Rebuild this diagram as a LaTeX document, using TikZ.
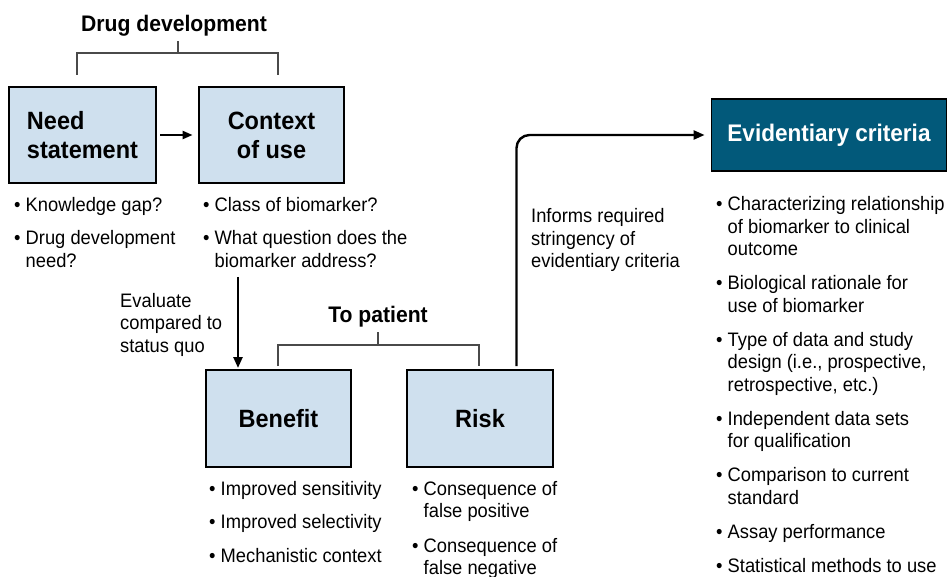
\documentclass[tikz,border=0pt]{standalone}
\usepackage{fontspec}
\setmainfont{Liberation Sans}[FakeStretch=0.94]
\usetikzlibrary{arrows.meta}
\definecolor{boxblue}{HTML}{CFE0EE}
\definecolor{teal}{HTML}{02597A}
\definecolor{bracketgray}{HTML}{4A4A4A}
\tikzset{
  body/.style={inner sep=0pt, anchor=base west,
    font=\fontsize{19.5}{22.5}\selectfont},
  heading/.style={inner sep=0pt, anchor=base,
    font=\fontsize{22.5}{26}\selectfont\bfseries},
  box/.style={draw=black, line width=2.8pt, fill=boxblue, inner sep=0pt,
    font=\fontsize{25}{29}\selectfont\bfseries},
  evbox/.style={draw=black, line width=1.8pt, fill=teal, text=white, inner sep=0pt,
    font=\fontsize{24}{28}\selectfont\bfseries},
  bracket/.style={draw=bracketgray, line width=1.1pt},
  flow/.style={line width=2.4pt, -{Triangle[length=11pt,width=9pt]}},
}
\newcommand{\bl}{\textbullet\ }
\newcommand{\ind}{\phantom{\textbullet\ }}
% a block of left-aligned lines whose baseline is that of its first line
\newcommand{\txtlines}[1]{\begin{tabular}[t]{@{}l@{}}#1\end{tabular}}
\begin{document}
\begin{tikzpicture}[x=1pt,y=-1pt]
\useasboundingbox (0,0) rectangle (950,577);

% Drug development group
\node[heading] (drugdev) at (174,32) {Drug development};
\draw[bracket] (77,75) -- (77,53) -- (278,53) -- (278,75) (178,53) -- (178,41);

\node[box, minimum width=147, minimum height=96, text width=111, align=left]
  (need) at (82.5,135) {Need\\statement};
\node[box, minimum width=145, minimum height=96, align=center]
  (context) at (271.5,135) {Context\\of use};
\draw[flow, line width=2.2pt, -{Triangle[length=10pt,width=8pt]}]
  ([xshift=3pt]need.east) -- ([xshift=-5pt]context.west);

\node[body] (needlist) at (14,212)
  {\txtlines{\bl Knowledge gap?\\[10.5pt]\bl Drug development\\\ind need?}};
\node[body] (contextlist) at (203,212)
  {\txtlines{\bl Class of biomarker?\\[10.5pt]\bl What question does the\\\ind biomarker address?}};

% Benefit and risk
\node[body] (evaluate) at (120,307) {\txtlines{Evaluate\\compared to\\status quo}};
\node[heading] (topatient) at (378,323) {To patient};
\draw[bracket] (278,366) -- (278,345) -- (479,345) -- (479,366) (378,345) -- (378,332);

\node[box, minimum width=145, minimum height=97] (benefit) at (278.5,418.5) {Benefit};
\node[box, minimum width=146, minimum height=97] (risk) at (480,418.5) {Risk};

\coordinate (evalstart) at (238,277);
\coordinate (evalend) at (238,368);
\draw[flow] (evalstart) -- (evalend);

\node[body] (benefitlist) at (209,495)
  {\txtlines{\bl Improved sensitivity\\[11pt]\bl Improved selectivity\\[11pt]\bl Mechanistic context}};
\node[body] (risklist) at (412,495)
  {\txtlines{\bl Consequence of\\\ind false positive\\[12pt]\bl Consequence of\\\ind false negative}};

% Evidentiary criteria
\node[evbox, minimum width=235, minimum height=72] (evid) at (829,135) {Evidentiary criteria};
\coordinate (riskout) at (516.5,366);
\draw[flow, rounded corners=13pt, shorten >=6pt] (riskout) |- (evid.west);
\node[body] (informs) at (531,223) {\txtlines{Informs required\\stringency of\\evidentiary criteria}};

\node[body] (evidlist) at (716,211)
  {\txtlines{\bl Characterizing relationship\\\ind of biomarker to clinical\\\ind outcome\\[11.5pt]
   \bl Biological rationale for\\\ind use of biomarker\\[11.5pt]
   \bl Type of data and study\\\ind design (i.e., prospective,\\\ind retrospective, etc.)\\[11.5pt]
   \bl Independent data sets\\\ind for qualification\\[11.5pt]
   \bl Comparison to current\\\ind standard\\[11.5pt]
   \bl Assay performance\\[11.5pt]
   \bl Statistical methods to use}};
\end{tikzpicture}
\end{document}
